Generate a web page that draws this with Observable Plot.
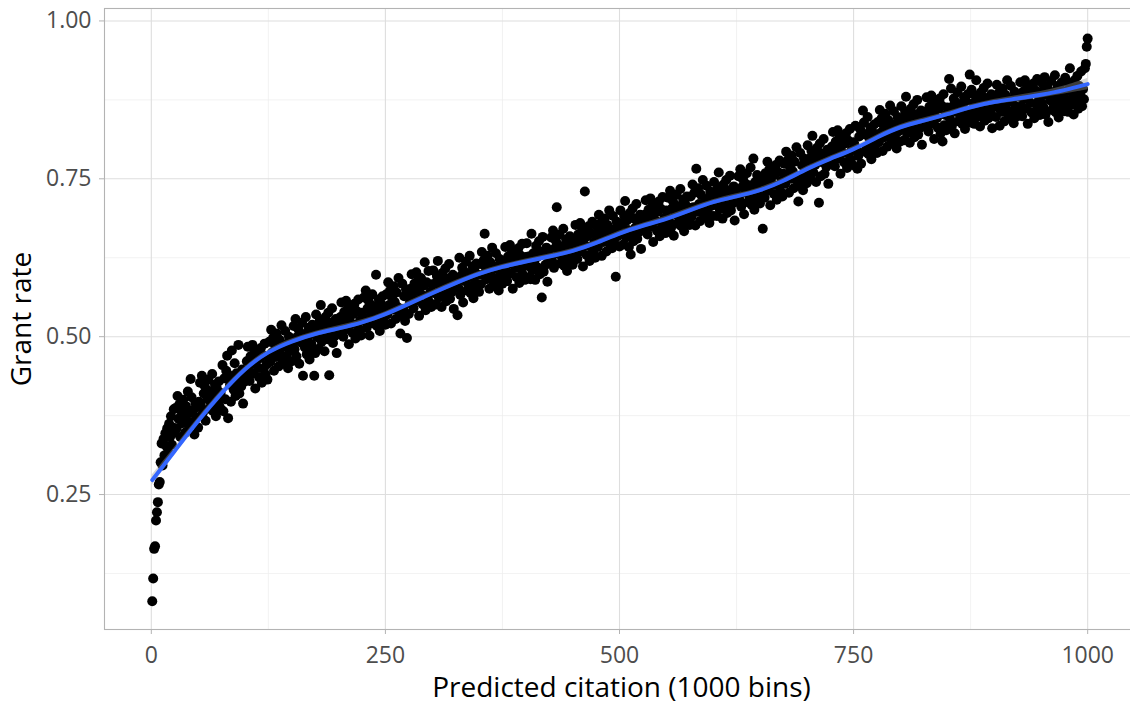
<!DOCTYPE html>
<html><head><meta charset="utf-8">
<script src="https://cdn.jsdelivr.net/npm/d3@7"></script>
<script src="https://cdn.jsdelivr.net/npm/@observablehq/plot@0.6"></script>
<style>
body{margin:0;background:#fff;overflow:hidden;}
#chart svg{display:block;}
</style>
</head><body><div id="chart"></div>
<script>
// Grant rate for each predicted-citation bin (bins 1..1000)
const grantRate = [
.081,.117,.164,.168,.209,.222,.238,.266,.270,.301,.331,.296,.338,.312,.347,.327,.355,.318,.362,.341,.374,.329,.356,.385,.348,
.387,.355,.406,.370,.393,.341,.382,.363,.400,.375,.348,.390,.367,.413,.359,.379,.433,.404,.364,.384,.345,.395,.372,.389,.356,
.397,.427,.390,.438,.379,.410,.422,.367,.416,.401,.432,.386,.413,.393,.441,.382,.407,.424,.374,.418,.398,.429,.389,.411,.384,
.455,.382,.434,.401,.446,.470,.371,.439,.424,.397,.478,.433,.416,.458,.406,.442,.428,.487,.410,.437,.421,.448,.394,.440,.429,
.438,.461,.484,.446,.430,.469,.457,.487,.442,.475,.418,.463,.478,.451,.436,.466,.482,.427,.471,.449,.489,.440,.456,.432,.468,
.492,.460,.511,.475,.498,.446,.487,.468,.505,.480,.453,.495,.472,.518,.464,.484,.458,.509,.469,.489,.450,.500,.477,.494,.461,
.487,.517,.480,.528,.469,.500,.512,.457,.506,.491,.522,.438,.503,.483,.531,.472,.497,.514,.464,.508,.488,.519,.479,.438,.474,
.535,.499,.514,.481,.526,.550,.492,.519,.504,.477,.531,.513,.496,.538,.439,.522,.508,.545,.490,.517,.501,.528,.474,.520,.509,
.508,.531,.554,.516,.500,.539,.527,.557,.512,.545,.488,.533,.548,.521,.506,.536,.552,.497,.541,.519,.559,.510,.526,.502,.538,
.532,.562,.525,.573,.514,.545,.557,.502,.551,.536,.567,.521,.548,.528,.598,.517,.542,.559,.509,.553,.533,.564,.524,.546,.519,
.567,.535,.586,.550,.573,.521,.562,.543,.580,.555,.528,.570,.547,.593,.539,.505,.533,.584,.544,.564,.525,.575,.498,.569,.536,
.553,.576,.599,.561,.545,.584,.572,.602,.557,.590,.533,.578,.593,.566,.551,.581,.618,.542,.586,.564,.604,.555,.571,.547,.583,
.605,.569,.584,.551,.596,.620,.562,.589,.574,.547,.601,.583,.566,.608,.556,.592,.578,.615,.560,.587,.571,.598,.544,.590,.579,
.584,.534,.577,.625,.566,.597,.609,.554,.603,.588,.619,.573,.600,.580,.628,.569,.594,.611,.561,.605,.585,.616,.576,.598,.571,
.615,.583,.634,.598,.621,.663,.610,.591,.628,.603,.576,.618,.595,.641,.587,.607,.581,.632,.592,.612,.573,.623,.600,.617,.584,
.596,.619,.642,.604,.588,.627,.615,.645,.600,.633,.576,.621,.636,.609,.594,.624,.640,.585,.629,.607,.647,.598,.614,.590,.626,
.648,.612,.627,.594,.591,.663,.605,.632,.617,.590,.644,.626,.609,.651,.599,.635,.562,.658,.603,.630,.614,.641,.587,.633,.622,
.627,.657,.620,.668,.609,.640,.652,.705,.646,.631,.662,.616,.643,.623,.671,.612,.637,.654,.604,.648,.628,.659,.619,.641,.614,
.631,.654,.677,.639,.623,.662,.650,.680,.635,.668,.611,.656,.730,.644,.629,.659,.675,.620,.664,.642,.682,.633,.649,.625,.661,
.674,.642,.693,.657,.680,.628,.669,.650,.687,.662,.635,.677,.654,.700,.646,.666,.640,.691,.651,.671,.595,.682,.659,.676,.643,
.700,.664,.679,.646,.691,.715,.657,.684,.669,.642,.696,.630,.661,.703,.651,.687,.673,.710,.655,.682,.666,.693,.639,.685,.674,
.670,.693,.716,.678,.662,.701,.689,.719,.674,.707,.650,.695,.710,.683,.668,.698,.714,.659,.703,.681,.721,.672,.688,.664,.700,
.690,.720,.683,.731,.672,.703,.715,.660,.709,.694,.725,.679,.706,.686,.734,.675,.700,.717,.667,.711,.691,.722,.682,.704,.677,
.722,.690,.741,.705,.728,.676,.766,.698,.735,.710,.683,.725,.702,.748,.694,.714,.688,.739,.699,.719,.680,.730,.707,.724,.691,
.745,.709,.724,.691,.736,.760,.702,.729,.714,.687,.741,.723,.706,.748,.696,.732,.718,.755,.700,.727,.711,.738,.684,.730,.719,
.724,.754,.717,.765,.706,.737,.749,.694,.743,.728,.759,.713,.740,.720,.768,.709,.734,.782,.701,.745,.725,.756,.716,.738,.711,
.728,.751,.671,.736,.720,.759,.747,.777,.732,.765,.708,.753,.768,.741,.726,.756,.772,.717,.761,.739,.779,.730,.746,.722,.758,
.774,.742,.793,.757,.780,.728,.769,.750,.787,.762,.735,.777,.754,.800,.746,.714,.740,.791,.751,.771,.732,.782,.759,.776,.743,
.803,.767,.782,.749,.794,.818,.760,.787,.772,.745,.799,.781,.712,.806,.754,.790,.776,.813,.758,.785,.769,.796,.742,.788,.777,
.778,.801,.824,.786,.770,.809,.797,.827,.782,.815,.758,.803,.818,.791,.776,.806,.822,.767,.811,.789,.829,.780,.796,.772,.808,
.804,.834,.797,.766,.786,.817,.829,.774,.823,.858,.839,.793,.820,.800,.848,.789,.814,.831,.781,.825,.805,.836,.796,.818,.791,
.840,.808,.859,.823,.846,.794,.835,.816,.853,.828,.801,.843,.820,.866,.812,.832,.806,.857,.817,.837,.798,.848,.825,.842,.809,
.865,.829,.844,.811,.856,.880,.822,.849,.834,.807,.861,.843,.826,.868,.816,.852,.838,.875,.820,.847,.831,.858,.804,.850,.839,
.833,.856,.879,.841,.825,.864,.852,.882,.837,.870,.813,.858,.873,.846,.831,.861,.877,.822,.866,.809,.884,.835,.851,.827,.863,
.852,.908,.845,.893,.834,.865,.877,.822,.871,.856,.887,.841,.868,.848,.896,.837,.862,.879,.829,.873,.853,.884,.844,.915,.839,
.891,.855,.870,.837,.882,.906,.848,.875,.860,.833,.887,.869,.852,.894,.842,.878,.864,.901,.846,.873,.857,.884,.830,.876,.865,
.880,.848,.899,.863,.886,.834,.875,.856,.893,.868,.841,.883,.860,.906,.852,.872,.846,.897,.857,.877,.838,.888,.865,.882,.849,
.857,.880,.903,.865,.849,.888,.876,.906,.861,.894,.837,.882,.897,.870,.855,.885,.901,.846,.890,.868,.908,.859,.875,.851,.887,
.870,.900,.863,.911,.852,.883,.895,.840,.889,.874,.905,.859,.886,.866,.914,.855,.880,.897,.847,.891,.871,.902,.862,.884,.857,
.910,.874,.889,.856,.901,.925,.867,.894,.879,.852,.906,.888,.871,.913,.861,.897,.883,.920,.865,.892,.876,.925,.932,.959,.972
];

// Smoothed fit (blue line) and its standard-error half-width, read at every 25 bins
const smoothBins = [1,25,50,75,100,125,150,175,200,225,250,275,300,325,350,375,400,425,450,475,500,525,550,575,600,625,650,675,700,725,750,775,800,825,850,875,900,925,950,975,1000];
const smoothRate = [.273,.319,.367,.411,.450,.477,.493,.505,.513,.522,.535,.552,.569,.585,.600,.611,.619,.627,.635,.648,.664,.676,.686,.700,.714,.722,.731,.746,.766,.782,.796,.816,.833,.842,.852,.864,.872,.877,.883,.890,.900];
const smoothSE = [.008,.006,.005,.005,.004,.004,.004,.004,.004,.004,.004,.004,.004,.004,.004,.004,.004,.004,.004,.004,.004,.004,.004,.004,.004,.004,.004,.004,.004,.004,.004,.004,.004,.004,.004,.004,.004,.005,.005,.006,.009];

const xTicks = [0, 250, 500, 750, 1000];
const xMinor = [125, 375, 625, 875];
const yTicks = [0.25, 0.50, 0.75, 1.00];
const yMinor = [0.125, 0.375, 0.625, 0.875];
const xTitle = "Predicted citation (1000 bins)";
const yTitle = "Grant rate";

const points = grantRate.map((v, i) => ({bin: i + 1, rate: v}));
const smooth = smoothBins.map((b, i) => ({bin: b, rate: smoothRate[i], lo: smoothRate[i] - smoothSE[i], hi: smoothRate[i] + smoothSE[i]}));

const font = "'Open Sans', 'DejaVu Sans', sans-serif";
const chart = Plot.plot({
  width: 1130, height: 707,
  marginLeft: 104, marginRight: -4, marginTop: 8, marginBottom: 78,
  style: {fontFamily: font, background: "#ffffff", overflow: "hidden"},
  x: {domain: [-50, 1050]},
  y: {domain: [0.0363, 1.0197]},
  marks: [
    Plot.gridX(xMinor, {stroke: "#ededed", strokeOpacity: 1, strokeWidth: 0.7}),
    Plot.gridY(yMinor, {stroke: "#ededed", strokeOpacity: 1, strokeWidth: 0.7}),
    Plot.gridX(xTicks, {stroke: "#dedede", strokeOpacity: 1, strokeWidth: 1.1}),
    Plot.gridY(yTicks, {stroke: "#dedede", strokeOpacity: 1, strokeWidth: 1.1}),
    Plot.axisX(xTicks, {tickSize: 5, tickPadding: 12, stroke: "#b3b3b3", fill: "#4d4d4d", fontSize: 23, label: null, tickFormat: d => String(d)}),
    Plot.axisY(yTicks, {tickSize: 5, tickPadding: 8, stroke: "#b3b3b3", fill: "#4d4d4d", fontSize: 23, label: null, tickFormat: d3.format(".2f")}),
    Plot.dot(points, {x: "bin", y: "rate", r: 5, fill: "#000000", stroke: null}),
    Plot.areaY(smooth, {x: "bin", y1: "lo", y2: "hi", fill: "#999999", fillOpacity: 0.4, curve: "basis"}),
    Plot.line(smooth, {x: "bin", y: "rate", stroke: "#3366FF", strokeWidth: 4, curve: "basis"}),
    Plot.frame({stroke: "#b3b3b3", strokeWidth: 1.1}),
    Plot.text([xTitle], {frameAnchor: "bottom", textAnchor: "middle", lineAnchor: "middle", dx: 2, dy: 59, fontSize: 28, fill: "#000000"}),
    Plot.text([yTitle], {frameAnchor: "left", textAnchor: "middle", lineAnchor: "middle", dx: -82, rotate: -90, fontSize: 28, fill: "#000000"})
  ]
});
document.getElementById("chart").append(chart);
</script>
</body></html>
